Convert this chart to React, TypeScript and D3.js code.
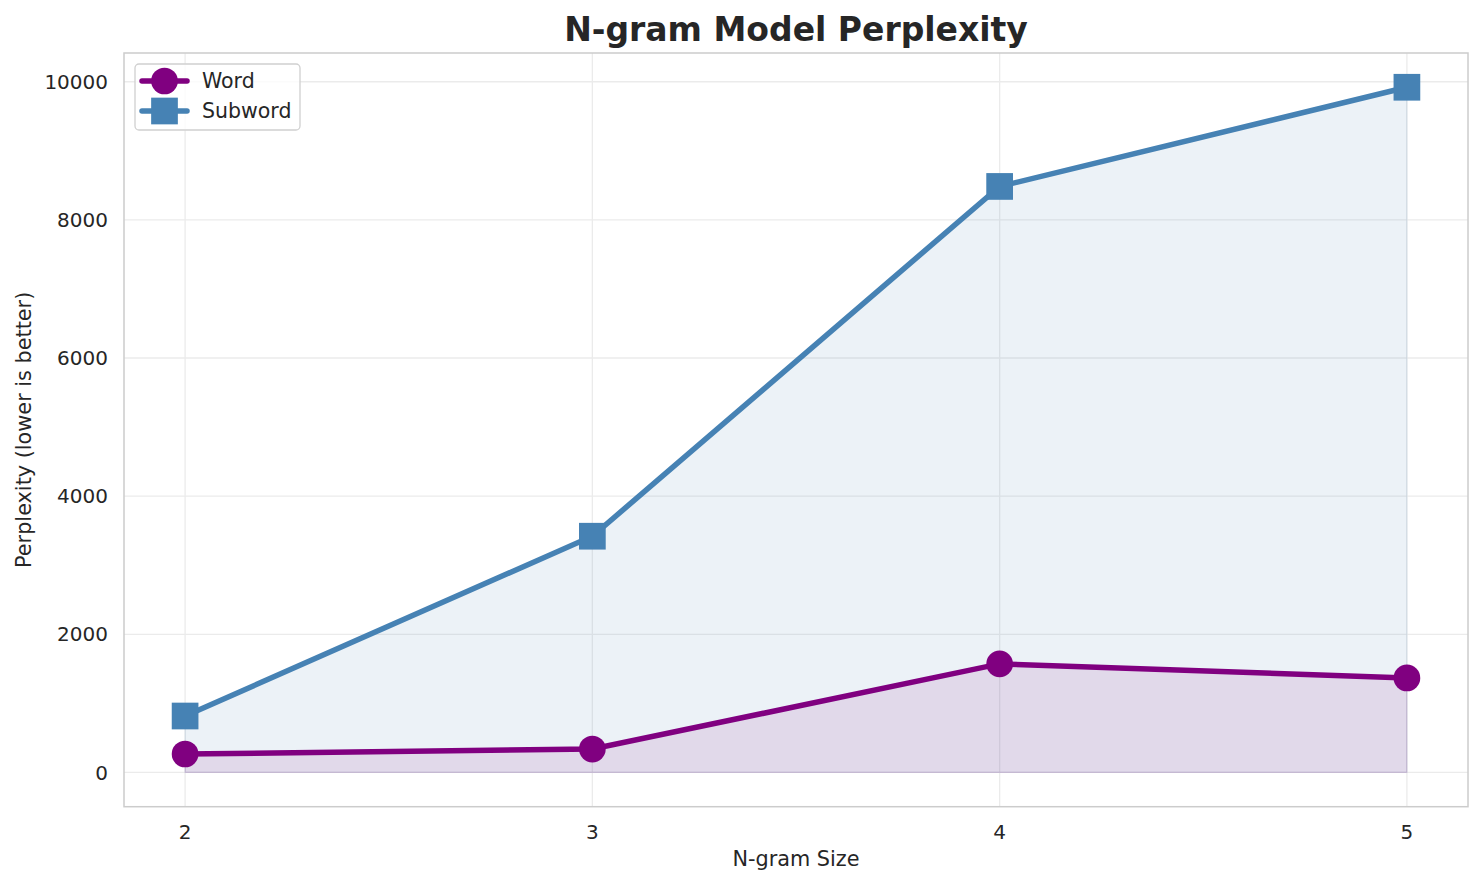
import React from "react";
import * as d3 from "d3";

const ngramSizes = [2, 3, 4, 5];
const wordPerplexity = [267, 339, 1571, 1368];
const subwordPerplexity = [817, 3420, 8484, 9920];
const yTicks = [0, 2000, 4000, 6000, 8000, 10000];

const W = 1484;
const H = 885;
const M = { left: 124, right: 1468, top: 53, bottom: 806.7 };
const FONT = "DejaVu Sans, sans-serif";

export default function App() {
  const x = d3.scaleLinear().domain([1.85, 5.15]).range([M.left, M.right]);
  const yMax = 9920;
  const y = d3
    .scaleLinear()
    .domain([-0.05 * yMax, yMax * 1.05])
    .range([M.bottom, M.top]);

  const wordPts = ngramSizes.map((n, i) => [n, wordPerplexity[i]] as [number, number]);
  const subPts = ngramSizes.map((n, i) => [n, subwordPerplexity[i]] as [number, number]);

  const line = d3
    .line<[number, number]>()
    .x((d) => x(d[0]))
    .y((d) => y(d[1]));
  const area = d3
    .area<[number, number]>()
    .x((d) => x(d[0]))
    .y0(() => y(0))
    .y1((d) => y(d[1]));

  const purple = "#800080";
  const blue = "#4682b4";
  const ms = 26.7;

  return (
    <svg width={W} height={H} style={{ position: "absolute", left: 0, top: 0 }} fontFamily={FONT}>
      <rect x={0} y={0} width={W} height={H} fill="#fff" />
      {/* grid */}
      {yTicks.map((t) => (
        <line key={"gy" + t} x1={M.left} x2={M.right} y1={y(t)} y2={y(t)} stroke="#ebebeb" strokeWidth={1.3} />
      ))}
      {ngramSizes.map((t) => (
        <line key={"gx" + t} x1={x(t)} x2={x(t)} y1={M.top} y2={M.bottom} stroke="#ebebeb" strokeWidth={1.3} />
      ))}
      {/* fills */}
      <path d={area(subPts) || ""} fill={blue} fillOpacity={0.1} stroke={blue} strokeOpacity={0.1} strokeWidth={1.3} />
      <path d={area(wordPts) || ""} fill={purple} fillOpacity={0.1} stroke={purple} strokeOpacity={0.1} strokeWidth={1.3} />
      {/* lines */}
      <path d={line(wordPts) || ""} fill="none" stroke={purple} strokeWidth={5.5} />
      <path d={line(subPts) || ""} fill="none" stroke={blue} strokeWidth={5.5} />
      {wordPts.map((d, i) => (
        <circle key={"w" + i} cx={x(d[0])} cy={y(d[1])} r={ms / 2} fill={purple} />
      ))}
      {subPts.map((d, i) => (
        <rect key={"s" + i} x={x(d[0]) - ms / 2} y={y(d[1]) - ms / 2} width={ms} height={ms} fill={blue} />
      ))}
      {/* spines */}
      <rect x={M.left} y={M.top} width={M.right - M.left} height={M.bottom - M.top} fill="none" stroke="#cccccc" strokeWidth={1.5} />
      {/* ticks */}
      {yTicks.map((t) => (
        <text key={"ty" + t} x={108} y={y(t)} dy="0.36em" textAnchor="end" fontSize={20} fill="#262626">
          {t}
        </text>
      ))}
      {ngramSizes.map((t) => (
        <text key={"tx" + t} x={x(t)} y={838.5} textAnchor="middle" fontSize={20} fill="#262626">
          {t}
        </text>
      ))}
      {/* labels */}
      <text x={(M.left + M.right) / 2} y={866} textAnchor="middle" fontSize={20.8} fill="#262626">
        N-gram Size
      </text>
      <text
        transform={`translate(31, ${(M.top + M.bottom) / 2}) rotate(-90)`}
        textAnchor="middle"
        fontSize={20.8}
        fill="#262626"
      >
        Perplexity (lower is better)
      </text>
      <text x={(M.left + M.right) / 2} y={41} textAnchor="middle" fontSize={33} fontWeight="bold" fill="#262626">
        N-gram Model Perplexity
      </text>
      {/* legend */}
      <g>
        <rect x={135} y={64} width={165} height={66} rx={4} fill="#fff" fillOpacity={0.8} stroke="#d0d0d0" strokeWidth={1.3} />
        <line x1={142} x2={187} y1={81} y2={81} stroke={purple} strokeWidth={5.5} strokeLinecap="round" />
        <circle cx={164.5} cy={81} r={ms / 2} fill={purple} />
        <line x1={142} x2={187} y1={111} y2={111} stroke={blue} strokeWidth={5.5} strokeLinecap="round" />
        <rect x={164.5 - ms / 2} y={111 - ms / 2} width={ms} height={ms} fill={blue} />
        <text x={202} y={81} dy="0.36em" fontSize={20.5} fill="#262626">
          Word
        </text>
        <text x={202} y={111} dy="0.36em" fontSize={20.5} fill="#262626">
          Subword
        </text>
      </g>
    </svg>
  );
}
